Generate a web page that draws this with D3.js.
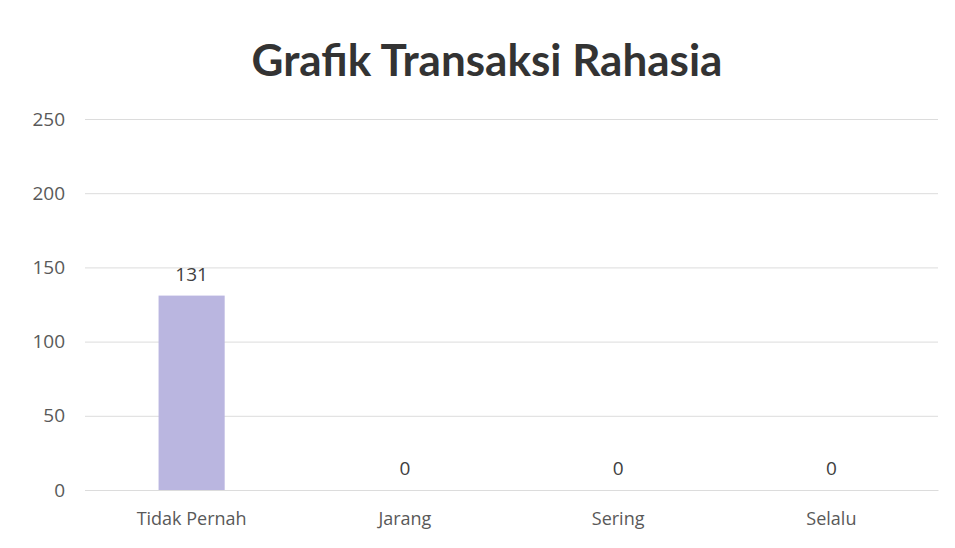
<!DOCTYPE html>
<html><head><meta charset="utf-8">
<script src="https://cdn.jsdelivr.net/npm/d3@7"></script>
<style>body{margin:0;background:#fff}svg{display:block}</style>
</head><body><svg id="c" width="955" height="548"></svg>
<script>
const categories = ["Tidak Pernah", "Jarang", "Sering", "Selalu"];
const values = [131, 0, 0, 0];
const yTicks = [0, 50, 100, 150, 200, 250];
const title = "Grafik Transaksi Rahasia";

const svg = d3.select("#c");
const m = {left: 85, right: 17, top: 119, bottom: 58};
const W = 955, H = 548;
const x = d3.scaleBand().domain(categories).range([m.left, W - m.right]).paddingInner(0.69).paddingOuter(0.345);
const y = d3.scaleLinear().domain([0, 250]).range([H - m.bottom, m.top]);

svg.append("text").attr("x", 487).attr("y", 76).attr("text-anchor", "middle")
  .attr("font-family", "Lato, 'Open Sans', sans-serif").attr("font-weight", "bold")
  .attr("font-size", 44).attr("fill", "#333").text(title);

const gy = svg.append("g").attr("transform", `translate(${m.left},0)`)
  .call(d3.axisLeft(y).tickValues(yTicks).tickSize(-(W - m.left - m.right)).tickPadding(20));
gy.select(".domain").remove();
gy.selectAll(".tick line").attr("stroke", "#dcdcdc").attr("stroke-width", 1);
gy.selectAll(".tick text").attr("font-family", "'Open Sans', sans-serif").attr("font-size", 19).attr("fill", "#595959");

svg.selectAll("rect.bar").data(values).join("rect").attr("class", "bar")
  .attr("x", (d, i) => x(categories[i])).attr("width", x.bandwidth())
  .attr("y", d => y(d)).attr("height", d => y(0) - y(d)).attr("fill", "#bab6e0");

svg.selectAll("text.lbl").data(values).join("text").attr("class", "lbl")
  .attr("x", (d, i) => x(categories[i]) + x.bandwidth() / 2).attr("y", d => y(d) - 15)
  .attr("text-anchor", "middle").attr("font-family", "'Open Sans', sans-serif").attr("font-size", 19)
  .attr("fill", "#404040").text(d => d);

const gx = svg.append("g").attr("transform", `translate(0,${H - m.bottom})`)
  .call(d3.axisBottom(x).tickSize(0).tickPadding(22));
gx.select(".domain").attr("stroke", "#dcdcdc");
gx.selectAll(".tick text").attr("font-family", "'Open Sans', sans-serif").attr("font-size", 18).attr("fill", "#595959");
</script></body></html>
